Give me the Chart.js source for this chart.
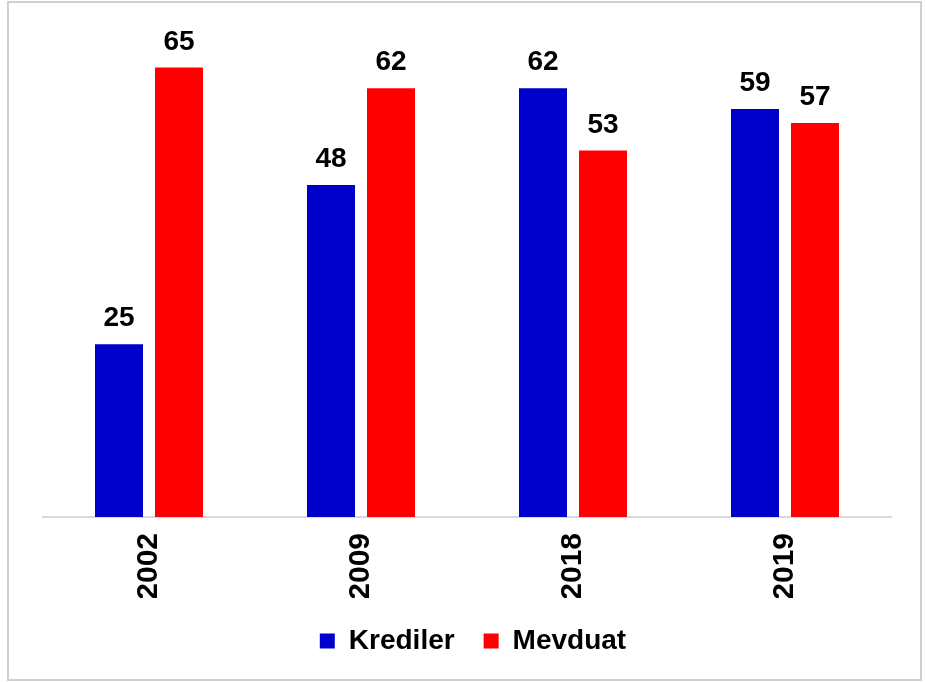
<!DOCTYPE html>
<html>
<head>
<meta charset="utf-8">
<script src="https://cdn.jsdelivr.net/npm/chart.js@4.4.0/dist/chart.umd.min.js"></script>
<style>
  html, body { margin: 0; padding: 0; background: #fff; }
  #wrap { position: absolute; left: 0; top: 0; width: 926px; height: 682px; }
  #frame { position: absolute; left: 7px; top: 1px; width: 915px; height: 680px; box-sizing: border-box; border: 2px solid #d0d0d0; pointer-events: none; }
</style>
</head>
<body>
<div id="wrap"><canvas id="c" width="926" height="682"></canvas></div>
<div id="frame"></div>
<script>
const categories = ["2002", "2009", "2018", "2019"];
const krediler = [25, 48, 62, 59];
const mevduat = [65, 62, 53, 57];
const seriesNames = ["Krediler", "Mevduat"];

const FONT = "'Liberation Sans', Arial, sans-serif";

const valueLabels = {
  id: 'valueLabels',
  afterLayout(chart) {
    const lg = chart.legend;
    if (lg) { lg.left += 6; lg.right += 6; }
  },
  afterDatasetsDraw(chart) {
    const ctx = chart.ctx;
    ctx.save();
    ctx.font = "bold 28px " + FONT;
    ctx.fillStyle = "#000";
    ctx.textAlign = "center";
    ctx.textBaseline = "alphabetic";
    chart.data.datasets.forEach((ds, i) => {
      const meta = chart.getDatasetMeta(i);
      meta.data.forEach((bar, j) => {
        ctx.fillText(String(ds.data[j]), bar.x, bar.y - 18);
      });
    });
    ctx.restore();
  }
};

new Chart(document.getElementById('c'), {
  type: 'bar',
  data: {
    labels: categories,
    datasets: [
      { label: seriesNames[0], data: krediler, backgroundColor: '#0000CC', categoryPercentage: 0.566, barPercentage: 0.8 },
      { label: seriesNames[1], data: mevduat, backgroundColor: '#FF0000', categoryPercentage: 0.566, barPercentage: 0.8 }
    ]
  },
  options: {
    responsive: false,
    animation: false,
    layout: { padding: { left: 43, right: 35, top: 33, bottom: 17 } },
    plugins: {
      legend: {
        position: 'bottom',
        maxHeight: 70,
        labels: {
          font: { family: FONT, size: 28, weight: 'bold' },
          color: '#000',
          boxWidth: 15,
          boxHeight: 15,
          padding: 29
        }
      },
      tooltip: { enabled: false }
    },
    scales: {
      x: {
        grid: { display: false },
        border: { display: true, color: '#d9d9d9', width: 2 },
        ticks: {
          font: { family: FONT, size: 30, weight: 'bold' },
          color: '#000',
          maxRotation: 90,
          minRotation: 90,
          padding: 8
        },
        afterFit(scale) { scale.height = 81; }
      },
      y: {
        display: false,
        min: 0,
        max: 70
      }
    }
  },
  plugins: [valueLabels]
});
</script>
</body>
</html>
